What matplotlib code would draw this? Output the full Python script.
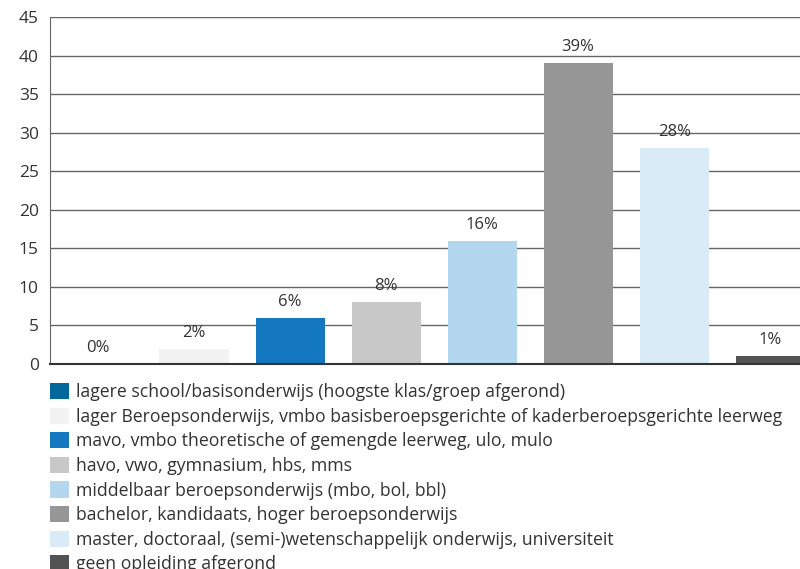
import matplotlib
matplotlib.use("Agg")
import matplotlib.pyplot as plt
from matplotlib.patches import Patch

plt.rcParams['font.family'] = ['Open Sans', 'DejaVu Sans']

categories = [
    "lagere school/basisonderwijs (hoogste klas/groep afgerond)",
    "lager Beroepsonderwijs, vmbo basisberoepsgerichte of kaderberoepsgerichte leerweg",
    "mavo, vmbo theoretische of gemengde leerweg, ulo, mulo",
    "havo, vwo, gymnasium, hbs, mms",
    "middelbaar beroepsonderwijs (mbo, bol, bbl)",
    "bachelor, kandidaats, hoger beroepsonderwijs",
    "master, doctoraal, (semi-)wetenschappelijk onderwijs, universiteit",
    "geen opleiding afgerond",
]
values = [0, 2, 6, 8, 16, 39, 28, 1]
colors = ["#01689b", "#f2f2f2", "#1478c0", "#c8c8c8",
          "#b3d7ee", "#969696", "#d9ebf7", "#535353"]

fig = plt.figure(figsize=(8, 5.69), dpi=100)
ax = fig.add_axes([0.0625, 0.3603, 0.9375, 0.6098])

x = list(range(len(values)))
ax.bar(x, values, width=0.72, color=colors, zorder=2)
for xi, v in zip(x, values):
    ax.annotate(f"{v}%", (xi, v), xytext=(0, 11.5), textcoords="offset points",
                ha="center", va="center", fontsize=12, color="#333333")

ax.set_xlim(-0.5, 7.31)
ax.set_ylim(0, 45)
ax.set_yticks(range(0, 46, 5))
ax.set_xticks([])
ax.yaxis.grid(True, color="#666666", linewidth=1, zorder=0)
ax.set_axisbelow(True)
ax.tick_params(axis="y", length=0, pad=8, labelsize=12.5, labelcolor="#333333")
for s in ["top", "right"]:
    ax.spines[s].set_visible(False)
ax.spines["left"].set_color("#666666")
ax.spines["bottom"].set_color("#333333")
ax.spines["bottom"].set_linewidth(1.5)

handles = [Patch(facecolor=c, edgecolor="none") for c in colors]
fig.legend(handles, categories, loc="upper left", bbox_to_anchor=(0.0625, 0.327),
           frameon=False, fontsize=12.7, handlelength=1.05, handleheight=1.03,
           handletextpad=0.4, labelspacing=0.37, borderaxespad=0, borderpad=0,
           labelcolor="#333333")

fig.savefig("out.png", dpi=100)
